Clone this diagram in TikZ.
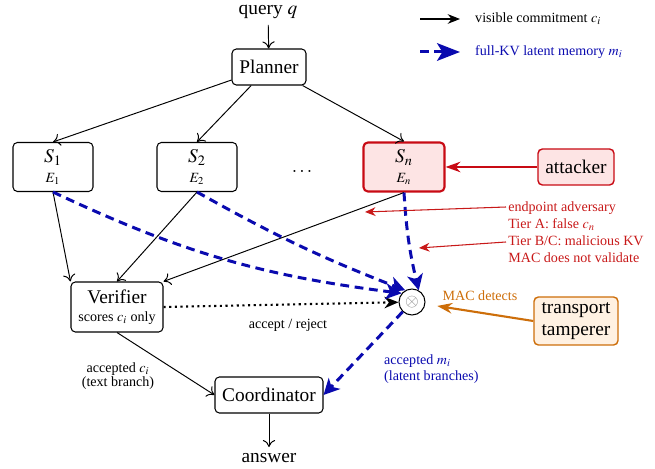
\documentclass[tikz,border=0pt]{standalone}
\usepackage{mathptmx}
\usepackage{fontspec}
\setmainfont{Liberation Serif}
\usetikzlibrary{arrows.meta,calc}
\newcommand\pxl{0.568pt}
\definecolor{kvblue}{RGB}{10,10,175}
\definecolor{advred}{RGB}{200,25,25}
\definecolor{boxred}{RGB}{200,10,20}
\definecolor{tampor}{RGB}{205,110,10}
\definecolor{pinkfill}{RGB}{253,228,228}
\definecolor{orfill}{RGB}{255,241,226}
\tikzset{
  big/.style={font=\fontsize{11}{13}\selectfont},
  small/.style={font=\fontsize{8}{9.6}\selectfont},
  box/.style={draw, rounded corners=2.5pt, line width=0.6pt, inner sep=1pt, align=center, big},
  vis/.style={line width=0.55pt, -{To[length=4pt,width=7pt]}},
  kv/.style={draw=kvblue, line width=1.7pt, dash pattern=on 5pt off 3.2pt, -{Stealth[length=9pt,width=9pt,inset=2.5pt]}},
}
\begin{document}
\begin{tikzpicture}[x=0.568pt,y=-0.568pt]
\useasboundingbox (0,0) rectangle (655,469);
% nodes
\node[big] (query) at (268,12) {query $q$};
\node[box, minimum width=74*\pxl, minimum height=36*\pxl] (planner) at (269,67) {Planner};
\node[box, minimum width=80*\pxl, minimum height=49*\pxl] (s1) at (53,167) {$S_1$\\[-2pt]{\fontsize{8}{9}\selectfont $E_1$}};
\node[box, minimum width=80*\pxl, minimum height=49*\pxl] (s2) at (197,167) {$S_2$\\[-2pt]{\fontsize{8}{9}\selectfont $E_2$}};
\node[big] (dots) at (302,171) {$\dots$};
\node[box, draw=boxred, fill=pinkfill, line width=1.2pt, minimum width=81*\pxl, minimum height=49*\pxl] (sn) at (404,167) {$S_n$\\[-2pt]{\fontsize{8}{9}\selectfont $E_n$}};
\node[box, draw=boxred, fill=pinkfill, line width=0.8pt, minimum width=76*\pxl, minimum height=36*\pxl] (att) at (576,167) {attacker};
\node[box, minimum width=92*\pxl, minimum height=50*\pxl] (ver) at (117,307) {Verifier\\[-3pt]{\fontsize{8}{9}\selectfont scores $c_i$ only}};
\node[circle, draw, line width=0.6pt, fill=white, minimum size=26*\pxl, inner sep=0pt] (circ) at (412,302) {\textcolor{gray}{$\otimes$}};
\node[box, draw=tampor, fill=orfill, line width=0.8pt, minimum width=84*\pxl, minimum height=48*\pxl, font=\fontsize{11}{12.5}\selectfont] (tamp) at (576,321) {transport\\tamperer};
\node[box, minimum width=108*\pxl, minimum height=36*\pxl] (coord) at (269,395) {Coordinator};
\node[big] (ans) at (269,458) {answer};
% labels
\node[small, text=tampor] (mac) at (480,296) {MAC detects};
\node[small] (ar) at (288,325) {accept / reject};
\node[small, align=center, font=\fontsize{8}{8.2}\selectfont] (accc) at (118,376) {accepted $c_i$\\(text branch)};
\node[small, align=left, anchor=west, text=kvblue, font=\fontsize{8}{9.2}\selectfont] (accm) at (378,369) {accepted $m_i$\\(latent branches)};
\node[small, align=left, anchor=west, text=advred, inner sep=0pt, font=\fontsize{8}{9.7}\selectfont] (adv) at (508,232.5) {endpoint adversary\\Tier A: false $c_n$\\Tier B/C: malicious KV\\MAC does not validate};
% legend
\coordinate (l1a) at (420,19); \coordinate (l1b) at (460,19);
\coordinate (l2a) at (420,52); \coordinate (l2b) at (460,52);
\draw[line width=0.6pt, -{Stealth[length=7pt,width=5.5pt]}] (l1a) -- (l1b);
\node[small, anchor=west] (leg1) at (469,19) {visible commitment $c_i$};
\draw[kv, -{Stealth[length=13pt,width=10pt,inset=3pt]}] (l2a) -- (l2b);
\node[small, anchor=west, text=kvblue] (leg2) at (469,52) {full-KV latent memory $m_i$};
% black connectors
\draw[vis] (query) -- (planner);
\draw[vis] (planner) -- (s1.north);
\draw[vis] (planner) -- (s2.north);
\draw[vis] (planner) -- (sn.north);
\draw[vis] (s1.south) -- (ver.north west);
\draw[vis] (s2.south) -- (ver.north);
\draw[vis] (sn.south) -- (ver.north east);
\draw[vis] (ver.south) -- (coord.west);
\draw[vis] (coord) -- (ans);
\draw[line width=1.2pt, dotted, -{Stealth[length=8pt,width=6.5pt]}] (ver.east) -- (circ);
% kv connectors
\draw[kv] (s1.south) to[bend right=9] (circ.140);
\draw[kv] (s2.south) to[bend right=4] (circ.120);
\draw[kv] (sn.south) to[bend right=5] (circ.60);
\draw[kv] (circ) -- (coord.east);
% adversary arrows
\draw[draw=boxred, line width=1.2pt, -{Stealth[length=8.5pt,width=6pt]}] (att) -- (sn);
\draw[draw=tampor, line width=1.2pt, shorten >=12*\pxl, -{Stealth[length=8.5pt,width=6pt]}] (tamp.west) -- (circ);
\coordinate (r1s) at (506,207); \coordinate (r1e) at (365,212);
\coordinate (r2s) at (506,242); \coordinate (r2e) at (419,248);
\draw[draw=advred, line width=0.6pt, -{Stealth[length=6pt,width=5pt]}] (r1s) -- (r1e);
\draw[draw=advred, line width=0.6pt, -{Stealth[length=6pt,width=5pt]}] (r2s) -- (r2e);
\end{tikzpicture}
\end{document}
